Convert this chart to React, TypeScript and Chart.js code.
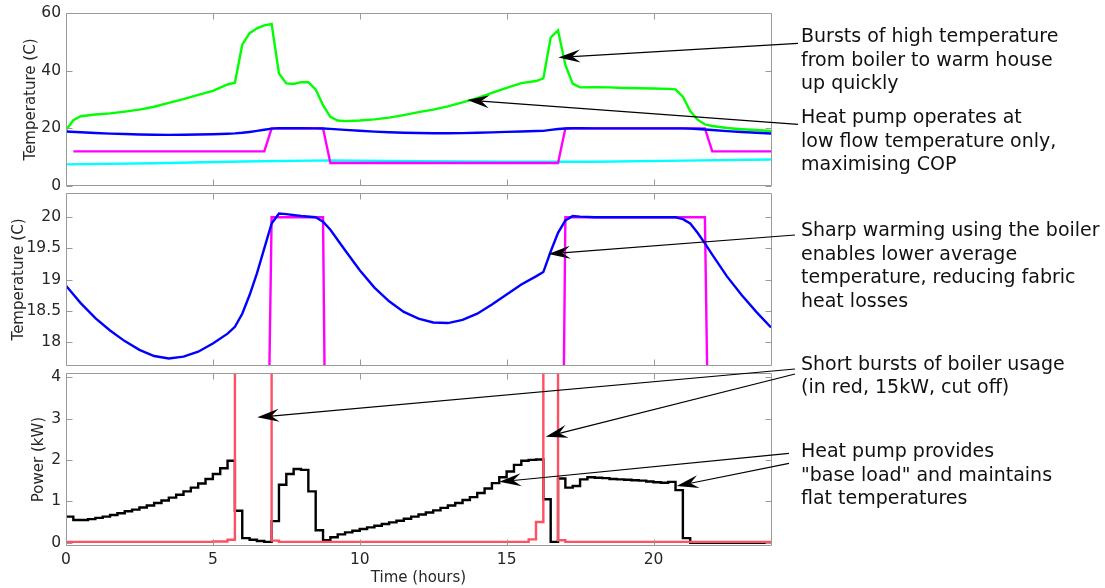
import React, { useEffect, useRef } from "react";
import { Chart, registerables } from "chart.js";

Chart.register(...registerables);

// ---------------- data ----------------
const xTickValues = [0, 5, 10, 15, 20];
const flowTickValues = [0, 20, 40, 60];
const roomTickValues = [18, 18.5, 19, 19.5, 20];
const powerTickValues = [0, 1, 2, 3, 4];

// Flow temperature (green)
const flowHours = [0, 0.25, 0.5, 1, 1.5, 2, 2.5, 3, 3.5, 4, 4.5, 5, 5.5, 5.75, 6, 6.25, 6.5, 6.75, 7, 7.25, 7.5, 7.75, 8, 8.25, 8.5, 8.75, 9, 9.25, 9.5, 10, 10.5, 11, 11.5, 12, 12.5, 13, 13.5, 14, 14.5, 15, 15.5, 16, 16.25, 16.5, 16.75, 17, 17.25, 17.5, 18, 18.5, 19, 19.5, 20, 20.5, 20.75, 21, 21.25, 21.5, 21.75, 22, 22.5, 23, 23.5, 24];
const flowTemp = [19.4, 22.8, 24.2, 24.8, 25.2, 25.8, 26.5, 27.5, 28.8, 30.1, 31.6, 33.0, 35.2, 35.8, 49, 53, 54.7, 55.7, 56.2, 39, 35.6, 35.4, 36, 36, 33.5, 28, 24, 22.7, 22.5, 22.7, 23.1, 23.7, 24.6, 25.6, 26.5, 27.6, 29.0, 30.5, 32.3, 34.0, 35.7, 36.4, 37.3, 51.5, 54.0, 42, 35.5, 34.2, 34.3, 34.2, 34.0, 33.9, 33.8, 33.7, 33.5, 31.0, 26, 23, 21.4, 20.8, 20.1, 19.7, 19.4, 19.1];

// Room temperature (blue)
const roomHours = [0, 0.5, 1, 1.5, 2, 2.5, 3, 3.5, 4, 4.5, 5, 5.5, 5.75, 6, 6.25, 6.5, 6.75, 7, 7.25, 7.5, 8, 8.5, 8.75, 9, 9.5, 10, 10.5, 11, 11.5, 12, 12.5, 13, 13.5, 14, 14.5, 15, 15.5, 16, 16.25, 16.5, 16.75, 17, 17.25, 17.5, 18, 19, 20, 20.75, 21, 21.25, 21.5, 21.75, 22, 22.5, 23, 23.5, 24];
const roomTemp = [18.9, 18.62, 18.38, 18.18, 18.01, 17.87, 17.77, 17.73, 17.76, 17.84, 17.97, 18.13, 18.24, 18.45, 18.75, 19.1, 19.5, 19.9, 20.06, 20.05, 20.02, 20.0, 19.93, 19.8, 19.47, 19.15, 18.87, 18.65, 18.48, 18.37, 18.31, 18.3, 18.35, 18.45, 18.6, 18.76, 18.92, 19.05, 19.12, 19.45, 19.75, 19.95, 20.02, 20.01, 20.0, 20.0, 20.0, 20.0, 19.97, 19.9, 19.75, 19.58, 19.4, 19.05, 18.75, 18.48, 18.23];

// Setpoint (magenta)
const setpointHours = [0.25, 6.75, 7.0, 8.75, 9.0, 16.75, 17.0, 21.75, 22.0, 24];
const setpointTemp = [12, 12, 20, 20, 8, 8, 20, 20, 12, 12];

// Outdoor temperature (cyan)
const outdoorHours = [0, 3, 6, 9, 12, 15, 18, 21, 24];
const outdoorTemp = [7.5, 7.9, 8.5, 8.9, 8.6, 8.4, 8.4, 8.8, 9.2];

// Heat pump electrical power (black, stairs every 15 min)
const hpHours = [0, 0.25, 0.5, 0.75, 1, 1.25, 1.5, 1.75, 2, 2.25, 2.5, 2.75, 3, 3.25, 3.5, 3.75, 4, 4.25, 4.5, 4.75, 5, 5.25, 5.5, 5.75, 6, 6.25, 6.5, 6.75, 7, 7.25, 7.5, 7.75, 8, 8.25, 8.5, 8.75, 9, 9.25, 9.5, 9.75, 10, 10.25, 10.5, 10.75, 11, 11.25, 11.5, 11.75, 12, 12.25, 12.5, 12.75, 13, 13.25, 13.5, 13.75, 14, 14.25, 14.5, 14.75, 15, 15.25, 15.5, 15.75, 16, 16.25, 16.5, 16.75, 17, 17.25, 17.5, 17.75, 18, 18.25, 18.5, 18.75, 19, 19.25, 19.5, 19.75, 20, 20.25, 20.5, 20.75, 21, 21.25, 21.5, 21.75, 22, 22.25, 22.5, 22.75, 23, 23.25, 23.5, 23.75, 24];
const hpPower = [0.63, 0.55, 0.55, 0.57, 0.6, 0.63, 0.67, 0.71, 0.76, 0.8, 0.85, 0.9, 0.96, 1.02, 1.09, 1.16, 1.24, 1.33, 1.43, 1.54, 1.66, 1.8, 1.98, 0.77, 0.11, 0.07, 0.04, 0.02, 0.52, 1.4, 1.66, 1.78, 1.76, 1.24, 0.3, 0.06, 0.13, 0.2, 0.25, 0.29, 0.33, 0.37, 0.41, 0.45, 0.49, 0.53, 0.58, 0.63, 0.68, 0.73, 0.78, 0.84, 0.9, 0.96, 1.03, 1.1, 1.2, 1.31, 1.44, 1.58, 1.72, 1.88, 1.98, 2.0, 2.01, 1.05, 0.02, 1.55, 1.33, 1.37, 1.53, 1.58, 1.57, 1.56, 1.54, 1.53, 1.52, 1.51, 1.5, 1.48, 1.46, 1.45, 1.47, 1.27, 0.11, 0, 0, 0, 0, 0, 0, 0, 0, 0, 0, 0, 0, 0];

// Boiler power (red, stairs, 15 kW bursts cut off)
const boilerHours = [0, 5.0, 5.5, 5.75, 7.0, 7.25, 15.75, 16.0, 16.25, 16.75, 17.0, 24];
const boilerPower = [0.02, 0.03, 0.07, 15, 0.05, 0.02, 0.08, 0.5, 15, 0.06, 0.02, 0.02];

// Annotation texts
const noteTexts = [
  ["Bursts of high temperature", "from boiler to warm house", "up quickly"],
  ["Heat pump operates at", "low flow temperature only,", "maximising COP"],
  ["Sharp warming using the boiler", "enables lower average", "temperature, reducing fabric", "heat losses"],
  ["Short bursts of boiler usage", "(in red, 15kW, cut off)"],
  ["Heat pump provides", "\"base load\" and maintains", "flat temperatures"],
];
// Arrow targets in data coordinates: [panel, hours, value]
const arrowTargets = [
  [0, 16.76, 44.6],
  [0, 13.66, 29.8],
  [1, 16.42, 19.41],
  [2, 6.51, 3.03],
  [2, 16.33, 2.56],
  [2, 14.75, 1.47],
  [2, 20.79, 1.37],
];

// ---------------- layout ----------------
const W = 1105;
const H = 588;
const PLOT_LEFT = 66;
const PLOT_RIGHT = 771;
const PANELS = [
  { top: 13, bottom: 186, yMin: 0, yMax: 60, titlePad: 22, label: "Temperature (C)" },
  { top: 193, bottom: 366, yMin: 17.61, yMax: 20.39, titlePad: 10.3, label: "Temperature (C)" },
  { top: 373, bottom: 546, yMin: -0.08, yMax: 4.1, titlePad: 30, label: "Power (kW)" },
];
const NOTE_LEFT = 801;
const NOTE_TOPS = [24, 105, 218, 351.5, 439];
const LINE_H = 23.7;
const ARROW_STARTS = [
  [798, 43.3],
  [798, 124.3],
  [795, 235],
  [795, 369],
  [795, 374],
  [789, 453.3],
  [789, 463.3],
];

const FONT = "'DejaVu Sans', 'Liberation Sans', sans-serif";
const TEXT_COLOR = "#262626";
const AXIS_COLOR = "#9a9a9a";
const TICK_SIZE = 15.5;
const TITLE_SIZE = 15;

const pts = (xs: number[], ys: number[]) => xs.map((x, i) => ({ x, y: ys[i] }));

const boxPlugin = {
  id: "matlabBox",
  afterDatasetsDraw(chart: any, _args: any, opts: any) {
    const { ctx, chartArea } = chart;
    const { left, right, top, bottom } = chartArea;
    const xs = chart.scales.x;
    const ys = chart.scales.y;
    const tl = 6;
    ctx.save();
    ctx.strokeStyle = AXIS_COLOR;
    ctx.lineWidth = 1;
    ctx.beginPath();
    const L = Math.round(left) + 0.5;
    const R = Math.round(right) + 0.5;
    const T = Math.round(top) + 0.5;
    const B = Math.round(bottom) - 0.5;
    ctx.rect(L, T, R - L, B - T);
    for (const v of opts.xTicks) {
      const px = Math.round(xs.getPixelForValue(v)) + 0.5;
      ctx.moveTo(px, T);
      ctx.lineTo(px, T + tl);
      ctx.moveTo(px, B);
      ctx.lineTo(px, B - tl);
    }
    for (const v of opts.yTicks) {
      const py = Math.round(ys.getPixelForValue(v)) + 0.5;
      ctx.moveTo(L, py);
      ctx.lineTo(L + tl, py);
      ctx.moveTo(R, py);
      ctx.lineTo(R - tl, py);
    }
    ctx.stroke();
    ctx.restore();
  },
};

function line(data: any[], color: string, stepped: any = false) {
  return {
    data,
    borderColor: color,
    backgroundColor: color,
    borderWidth: 2.4,
    pointRadius: 0,
    fill: false,
    tension: 0,
    stepped,
    clip: 0,
  };
}

function makeConfig(panelIndex: number, datasets: any[], yTicks: number[], showX: boolean) {
  const p = PANELS[panelIndex];
  const tickFont = { family: FONT, size: TICK_SIZE };
  const titleFont = { family: FONT, size: TITLE_SIZE };
  return {
    type: "line",
    data: { datasets },
    plugins: [boxPlugin],
    options: {
      responsive: false,
      animation: false,
      events: [],
      layout: {
        padding: { left: 0, right: W - PLOT_RIGHT, top: p.top, bottom: showX ? 0 : H - p.bottom },
      },
      plugins: {
        legend: { display: false },
        tooltip: { enabled: false },
        matlabBox: { xTicks: xTickValues, yTicks },
      },
      scales: {
        x: {
          type: "linear",
          min: 0,
          max: 24,
          display: showX,
          grid: { display: false, drawTicks: false },
          border: { display: false },
          afterBuildTicks: (s: any) => {
            s.ticks = xTickValues.map((v) => ({ value: v }));
          },
          ticks: {
            padding: 4.5,
            color: TEXT_COLOR,
            font: tickFont,
            maxRotation: 0,
            autoSkip: false,
            callback: (v: any) => String(v),
          },
          title: {
            display: showX,
            text: "Time (hours)",
            color: TEXT_COLOR,
            font: titleFont,
            padding: { top: 0, bottom: 1 },
          },
          afterFit: (s: any) => {
            if (showX) s.height = H - p.bottom;
            s.paddingLeft = 0;
            s.paddingRight = 0;
          },
        },
        y: {
          type: "linear",
          min: p.yMin,
          max: p.yMax,
          grid: { display: false, drawTicks: false },
          border: { display: false },
          afterBuildTicks: (s: any) => {
            s.ticks = yTicks.map((v) => ({ value: v }));
          },
          ticks: {
            padding: 5,
            color: TEXT_COLOR,
            font: tickFont,
            autoSkip: false,
            callback: (v: any) => String(v),
          },
          title: {
            display: true,
            text: p.label,
            color: TEXT_COLOR,
            font: titleFont,
            padding: { top: p.titlePad, bottom: 0 },
          },
          afterFit: (s: any) => {
            s.width = PLOT_LEFT;
            s.paddingTop = 0;
            s.paddingBottom = 0;
          },
        },
      },
    },
  };
}

function drawArrow(ctx: CanvasRenderingContext2D, x1: number, y1: number, x2: number, y2: number) {
  const ang = Math.atan2(y2 - y1, x2 - x1);
  const ux = Math.cos(ang);
  const uy = Math.sin(ang);
  const nx = -uy;
  const ny = ux;
  const len = 22;
  const half = 6.5;
  const notch = 14;
  const bx = x2 - ux * len;
  const by = y2 - uy * len;
  const mx = x2 - ux * notch;
  const my = y2 - uy * notch;
  ctx.beginPath();
  ctx.moveTo(x1, y1);
  ctx.lineTo(mx, my);
  ctx.stroke();
  ctx.beginPath();
  ctx.moveTo(x2, y2);
  ctx.lineTo(bx + nx * half, by + ny * half);
  ctx.lineTo(mx, my);
  ctx.lineTo(bx - nx * half, by - ny * half);
  ctx.closePath();
  ctx.fill();
}

export default function App() {
  const c1 = useRef<HTMLCanvasElement>(null);
  const c2 = useRef<HTMLCanvasElement>(null);
  const c3 = useRef<HTMLCanvasElement>(null);
  const overlay = useRef<HTMLCanvasElement>(null);

  useEffect(() => {
    const room = pts(roomHours, roomTemp);
    const setp = pts(setpointHours, setpointTemp);
    const chart1 = new Chart(
      c1.current as any,
      makeConfig(
        0,
        [
          line(room, "#0000ff"),
          line(pts(flowHours, flowTemp), "#00ff00"),
          line(setp, "#ff00ff"),
          line(pts(outdoorHours, outdoorTemp), "#00ffff"),
        ],
        flowTickValues,
        false
      ) as any
    );
    const chart2 = new Chart(
      c2.current as any,
      makeConfig(1, [line(room, "#0000ff"), line(setp, "#ff00ff")], roomTickValues, false) as any
    );
    const chart3 = new Chart(
      c3.current as any,
      makeConfig(
        2,
        [line(pts(boilerHours, boilerPower), "#ff5064", "before"), line(pts(hpHours, hpPower), "#000000", "before")],
        powerTickValues,
        true
      ) as any
    );
    const charts = [chart1, chart2, chart3];

    const oc = overlay.current;
    if (oc) {
      const ctx = oc.getContext("2d");
      if (ctx) {
        ctx.clearRect(0, 0, W, H);
        ctx.strokeStyle = "#000";
        ctx.fillStyle = "#000";
        ctx.lineWidth = 1.2;
        arrowTargets.forEach(([pi, hx, vy], i) => {
          const ch: any = charts[pi];
          const tx = ch.scales.x.getPixelForValue(hx);
          const ty = ch.scales.y.getPixelForValue(vy);
          const [sx, sy] = ARROW_STARTS[i];
          drawArrow(ctx, sx, sy, tx, ty);
        });
      }
    }
    return () => {
      charts.forEach((c) => c.destroy());
    };
  }, []);

  const canvasStyle: React.CSSProperties = { position: "absolute", left: 0, top: 0, width: W, height: H };

  return (
    <div style={{ position: "absolute", left: 0, top: 0, width: W, height: H, background: "#fff", overflow: "hidden" }}>
      <canvas ref={c1} width={W} height={H} style={canvasStyle} />
      <canvas ref={c2} width={W} height={H} style={canvasStyle} />
      <canvas ref={c3} width={W} height={H} style={canvasStyle} />
      <canvas ref={overlay} width={W} height={H} style={canvasStyle} />
      {noteTexts.map((lines, i) => (
        <div
          key={i}
          style={{
            position: "absolute",
            left: NOTE_LEFT,
            top: NOTE_TOPS[i],
            fontFamily: FONT,
            fontSize: 19,
            lineHeight: `${LINE_H}px`,
            color: "#111",
            whiteSpace: "pre",
          }}
        >
          {lines.join("\n")}
        </div>
      ))}
    </div>
  );
}
